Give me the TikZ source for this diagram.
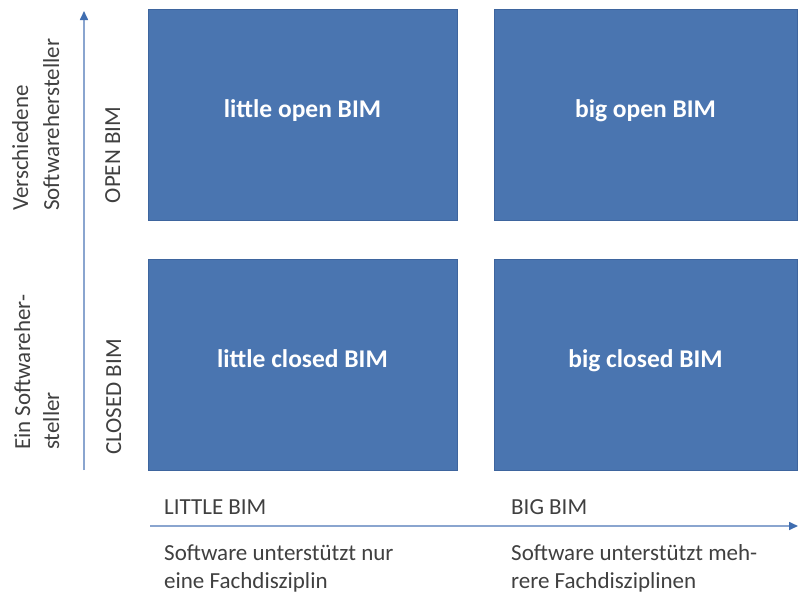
\documentclass[tikz,border=0pt]{standalone}
\usepackage{fontspec}
\setmainfont{Carlito}
\usetikzlibrary{arrows.meta}
\definecolor{boxblue}{HTML}{4A75B0}
\definecolor{boxedge}{HTML}{3E659E}
\definecolor{axisline}{HTML}{8AA5CF}
\definecolor{axistip}{HTML}{3F6DB0}
\definecolor{labelgray}{HTML}{404040}
\tikzset{
  quad/.style={draw=boxedge, line width=1pt, fill=boxblue, minimum width=309pt, minimum height=211pt, inner sep=0pt, outer sep=0pt},
  quadtext/.style={text=white, font=\fontsize{25.5}{30}\selectfont\bfseries, inner sep=0pt, anchor=base},
  axislabel/.style={text=labelgray, font=\fontsize{23}{28}\selectfont, inner sep=0pt},
  axisarrow/.style={draw=axisline, line width=1.6pt, -{Triangle[length=9pt,width=8pt,color=axistip,fill=axistip]}},
}
\begin{document}
\begin{tikzpicture}[x=1pt,y=-1pt]
  \useasboundingbox[fill=white] (0,0) rectangle (798,598);

  % quadrants
  \node[quad, anchor=north west] (lo) at (148,9) {};
  \node[quad, anchor=north west, minimum width=303pt] (bo) at (494,9) {};
  \node[quad, anchor=north west] (lc) at (148,259) {};
  \node[quad, anchor=north west, minimum width=303pt] (bc) at (494,259) {};

  % quadrant captions, set on a common baseline
  \node[quadtext] (tlo) at (lo.center |- 0,117) {little open BIM};
  \node[quadtext] (tbo) at (bo.center |- 0,117) {big open BIM};
  \node[quadtext] (tlc) at (lc.center |- 0,367) {little closed BIM};
  \node[quadtext] (tbc) at (bc.center |- 0,367) {big closed BIM};

  % axes
  \coordinate (ybot) at (84,470);
  \coordinate (ytop) at (84,11);
  \coordinate (xleft) at (150,526);
  \coordinate (xright) at (798,526);
  \draw[axisarrow] (ybot) -- (ytop);
  \draw[axisarrow] (xleft) -- (xright);

  % vertical axis labels
  \node[axislabel, rotate=90, anchor=base] (openbim) at (120,155) {OPEN BIM};
  \node[axislabel, rotate=90, anchor=base] (closedbim) at (121,397) {CLOSED BIM};
  \node[axislabel, rotate=90, anchor=base west] (many1) at (28,211) {Verschiedene};
  \node[axislabel, rotate=90, anchor=base west] (many2) at (59,211) {Softwarehersteller};
  \node[axislabel, rotate=90, anchor=base west] (one1) at (30,450) {Ein Softwareher-};
  \node[axislabel, rotate=90, anchor=base west] (one2) at (59,450) {steller};

  % horizontal axis labels
  \node[axislabel, anchor=base west] (little) at (164,514) {LITTLE BIM};
  \node[axislabel, anchor=base west] (big) at (511,514) {BIG BIM};
  \node[axislabel, anchor=base west] (ldesc1) at (164,560) {Software unterstützt nur};
  \node[axislabel, anchor=base west] (ldesc2) at (164,588) {eine Fachdisziplin};
  \node[axislabel, anchor=base west] (bdesc1) at (511,560) {Software unterstützt meh-};
  \node[axislabel, anchor=base west] (bdesc2) at (511,588) {rere Fachdisziplinen};
\end{tikzpicture}
\end{document}
